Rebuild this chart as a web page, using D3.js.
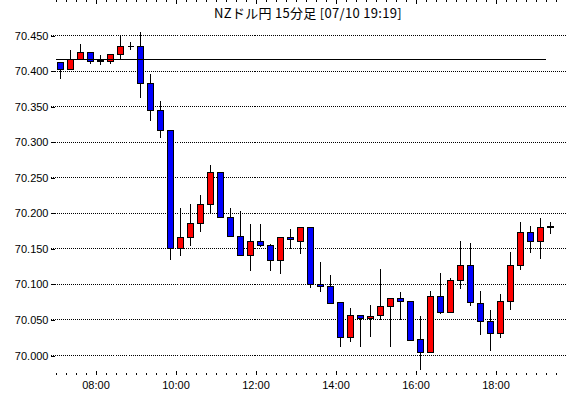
<!DOCTYPE html>
<html lang="ja">
<head>
<meta charset="utf-8">
<title>NZドル円 15分足</title>
<script src="https://d3js.org/d3.v7.min.js"></script>
<style>
  body { margin: 0; background: #fff; }
  svg { display: block; }
  .title { font-family: "Noto Sans CJK JP", sans-serif; font-size: 13px; fill: #000; }
  .axis text { font-family: "Liberation Sans", Arial, sans-serif; font-size: 11px; fill: #000; }
  .axis line { stroke: #000; shape-rendering: crispEdges; }
  .grid { stroke: #000; stroke-dasharray: 1,1; shape-rendering: crispEdges; }
  .wick { stroke: #000; shape-rendering: crispEdges; }
  .up { fill: #ff0000; stroke: #000; shape-rendering: crispEdges; }
  .down { fill: #0000ff; stroke: #000; shape-rendering: crispEdges; }
  .flat { stroke: #000; shape-rendering: crispEdges; }
</style>
</head>
<body>
<svg width="570" height="398"></svg>
<script>

var title = "NZドル円 15分足 [07/10 19:19]";

// 15 minute bars, time = start of the bar
var times = ["07:00","07:15","07:30","07:45","08:00","08:15","08:30","08:45",
             "09:00","09:15","09:30","09:45","10:00","10:15","10:30","10:45",
             "11:00","11:15","11:30","11:45","12:00","12:15","12:30","12:45",
             "13:00","13:15","13:30","13:45","14:00","14:15","14:30","14:45",
             "15:00","15:15","15:30","15:45","16:00","16:15","16:30","16:45",
             "17:00","17:15","17:30","17:45","18:00","18:15","18:30","18:45",
             "19:00","19:15"];

var opens  = [70.412,70.402,70.416,70.426,70.4145,70.413,70.423,70.435,
              70.435,70.382,70.344,70.316,70.151,70.166,70.185,70.213,
              70.258,70.194,70.168,70.140,70.161,70.154,70.133,70.166,
              70.161,70.180,70.100,70.097,70.074,70.025,70.056,70.052,
              70.056,70.069,70.080,70.076,70.022,70.004,70.083,70.060,
              70.106,70.127,70.073,70.048,70.031,70.076,70.127,70.173,
              70.161,70.1815];
var highs  = [70.413,70.430,70.439,70.426,70.423,70.423,70.450,70.442,
              70.456,70.397,70.359,70.317,70.208,70.214,70.227,70.269,
              70.258,70.208,70.204,70.186,70.186,70.157,70.168,70.178,
              70.180,70.180,70.132,70.114,70.074,70.067,70.056,70.072,
              70.122,70.081,70.090,70.078,70.056,70.092,70.117,70.110,
              70.162,70.159,70.091,70.065,70.087,70.146,70.189,70.183,
              70.194,70.189];
var lows   = [70.389,70.402,70.416,70.410,70.409,70.411,70.416,70.430,
              70.363,70.331,70.307,70.135,70.141,70.154,70.174,70.199,
              70.194,70.168,70.140,70.119,70.153,70.119,70.115,70.151,
              70.143,70.095,70.090,70.073,70.012,70.019,70.013,70.027,
              70.050,70.013,70.050,70.021,69.981,70.004,70.059,70.060,
              70.094,70.071,70.030,70.007,70.025,70.064,70.121,70.145,
              70.137,70.171];
var closes = [70.402,70.416,70.426,70.413,70.413,70.423,70.435,70.435,
              70.382,70.344,70.316,70.151,70.166,70.186,70.213,70.258,
              70.194,70.168,70.140,70.161,70.154,70.133,70.166,70.163,
              70.180,70.100,70.097,70.073,70.025,70.056,70.052,70.055,
              70.069,70.080,70.076,70.021,70.004,70.083,70.060,70.106,
              70.127,70.074,70.048,70.031,70.076,70.127,70.173,70.161,
              70.180,70.180];

var yTicks = [70.000,70.050,70.100,70.150,70.200,70.250,70.300,70.350,70.400,70.450];
var xTicks = ["08:00","10:00","12:00","14:00","16:00","18:00"];

// horizontal reference line
var refPrice = 70.416, refFrom = "07:00", refTo = "19:15";

var svg = d3.select("svg"),
    left = 50.5, right = 565.5, top = 25.5, bottom = 374.5;

var parse = d3.timeParse("%H:%M");
var fmt = d3.timeFormat("%H:%M");

var x = d3.scaleTime()
    .domain([d3.timeParse("%H:%M:%S")("06:52:30"), parse("19:45")])
    .range([left, right]);

var y = d3.scaleLinear()
    .domain([70.000, 70.450])
    .range([355.5, 35.5]);

var yTop = y.invert(top), yBottom = y.invert(bottom);
var yMinor = d3.range(Math.ceil(yBottom * 100), Math.floor(yTop * 100) + 1).map(function(d) { return d / 100; });
var xMinor = d3.timeMinute.every(15).range(x.domain()[0], x.domain()[1]);

function py(v) { return Math.round(y(v) - 0.5) + 0.5; }

var data = times.map(function(t, i) {
    return { t: parse(t), o: opens[i], h: highs[i], l: lows[i], c: closes[i] };
});

// title
svg.append("text")
   .attr("class", "title")
   .attr("x", (left + right) / 2)
   .attr("y", 18)
   .attr("text-anchor", "middle")
   .attr("letter-spacing", "0.3px")
   .text(title);

// dotted grid
svg.append("g").selectAll("line")
   .data(yTicks)
   .enter().append("line")
   .attr("class", "grid")
   .attr("x1", left).attr("x2", right)
   .attr("y1", function(d) { return py(d); })
   .attr("y2", function(d) { return py(d); });

// axes (ticks pointing inwards)
function clean(g) { g.select(".domain").remove(); }

svg.append("g").attr("class", "axis")
   .attr("transform", "translate(" + left + ",0)")
   .call(d3.axisLeft(y).tickValues(yMinor).tickSize(-3).tickFormat(""))
   .call(clean);
svg.append("g").attr("class", "axis")
   .attr("transform", "translate(" + left + ",0)")
   .call(d3.axisLeft(y).tickValues(yTicks).tickSize(-4).tickPadding(2).tickFormat(d3.format(".3f")))
   .call(clean);
svg.append("g").attr("class", "axis")
   .attr("transform", "translate(" + right + ",0)")
   .call(d3.axisRight(y).tickValues(yMinor).tickSize(-3).tickFormat(""))
   .call(clean);

svg.append("g").attr("class", "axis")
   .attr("transform", "translate(0," + bottom + ")")
   .call(d3.axisBottom(x).tickValues(xMinor).tickSize(-2).tickFormat(""))
   .call(clean);
svg.append("g").attr("class", "axis")
   .attr("transform", "translate(0," + bottom + ")")
   .call(d3.axisBottom(x).tickValues(xTicks.map(parse)).tickSize(-4).tickPadding(7).tickFormat(fmt))
   .call(clean);
svg.append("g").attr("class", "axis")
   .attr("transform", "translate(0," + top + ")")
   .call(d3.axisTop(x).tickValues(xMinor).tickSize(-2).tickFormat(""))
   .call(clean);
svg.append("g").attr("class", "axis")
   .attr("transform", "translate(0," + top + ")")
   .call(d3.axisTop(x).tickValues(xTicks.map(parse)).tickSize(-4).tickFormat(""))
   .call(clean);

// candles
var half = (x(parse("07:15")) - x(parse("07:00"))) / 2;
var candle = svg.append("g").selectAll("g")
   .data(data)
   .enter().append("g");

candle.append("line")
   .attr("class", "wick")
   .attr("x1", function(d) { return x(d.t) + half; })
   .attr("x2", function(d) { return x(d.t) + half; })
   .attr("y1", function(d) { return py(d.h); })
   .attr("y2", function(d) { return py(d.l); });

candle.each(function(d) {
    var g = d3.select(this),
        cx = x(d.t) + half,
        y1 = py(Math.max(d.o, d.c)),
        y2 = py(Math.min(d.o, d.c));
    if (y2 - y1 < 1) {
        g.append("line").attr("class", "flat")
         .attr("x1", cx - 3).attr("x2", cx + 3)
         .attr("y1", y1).attr("y2", y1);
    } else {
        g.append("rect")
         .attr("class", d.c >= d.o ? "up" : "down")
         .attr("x", cx - 3)
         .attr("y", y1)
         .attr("width", 6)
         .attr("height", y2 - y1);
    }
});

// reference line
svg.append("line")
   .attr("stroke", "#000")
   .attr("shape-rendering", "crispEdges")
   .attr("x1", x(parse(refFrom))).attr("x2", x(parse(refTo)))
   .attr("y1", py(refPrice)).attr("y2", py(refPrice));

// frame
svg.append("rect")
   .attr("x", left).attr("y", top)
   .attr("width", right - left).attr("height", bottom - top)
   .attr("fill", "none")
   .attr("stroke", "#000")
   .attr("shape-rendering", "crispEdges");

</script>
</body>
</html>
